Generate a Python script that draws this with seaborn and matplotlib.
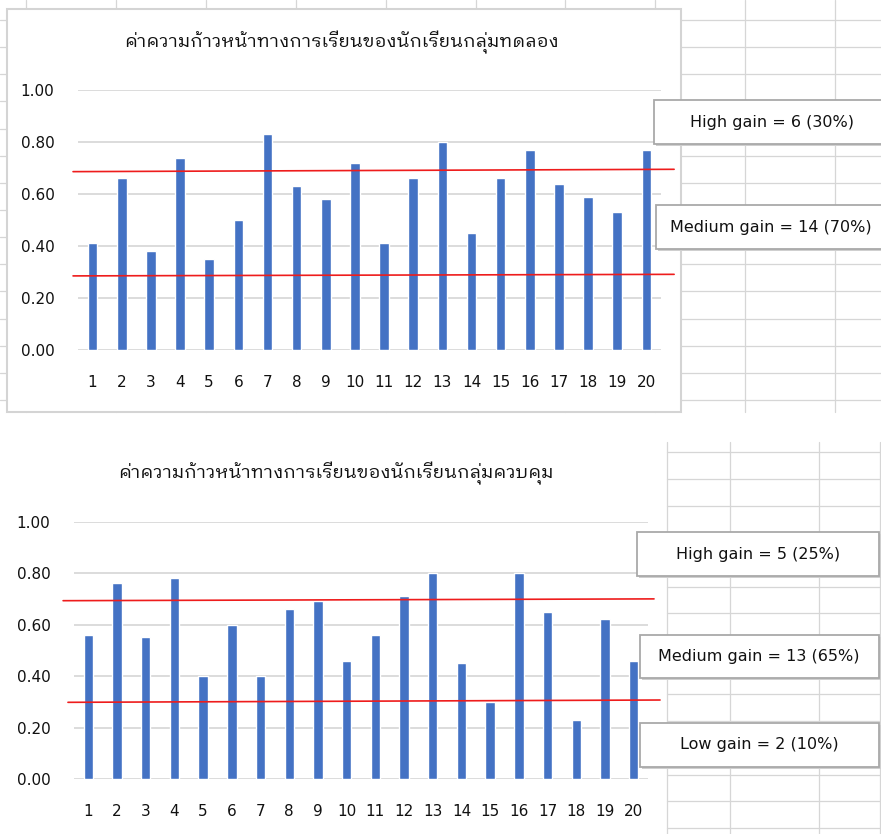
import numpy as np
import pandas as pd
import matplotlib
matplotlib.use("Agg")
import matplotlib.pyplot as plt
from matplotlib.patches import Rectangle
from matplotlib.ticker import FormatStrFormatter
import seaborn as sns

# ---- data -------------------------------------------------------------
students = [str(i) for i in range(1, 21)]
exp_gain = [0.41, 0.66, 0.38, 0.74, 0.35, 0.50, 0.83, 0.63, 0.58, 0.72,
            0.41, 0.66, 0.80, 0.45, 0.66, 0.77, 0.64, 0.59, 0.53, 0.77]
ctl_gain = [0.56, 0.76, 0.55, 0.78, 0.40, 0.60, 0.40, 0.66, 0.69, 0.46,
            0.56, 0.71, 0.80, 0.45, 0.30, 0.80, 0.65, 0.23, 0.62, 0.46]

# hand-drawn cut-off lines (value at left end, value at right end)
exp_cut_high = [0.686, 0.695]
exp_cut_low = [0.285, 0.291]
ctl_cut_high = [0.693, 0.700]
ctl_cut_low = [0.298, 0.307]

exp_title = "ค่าความก้าวหน้าทางการเรียนของนักเรียนกลุ่มทดลอง"
ctl_title = "ค่าความก้าวหน้าทางการเรียนของนักเรียนกลุ่มควบคุม"
exp_labels = ["High gain = 6 (30%)", "Medium gain = 14 (70%)"]
ctl_labels = ["High gain = 5 (25%)", "Medium gain = 13 (65%)", "Low gain = 2 (10%)"]
y_ticks = [0.0, 0.2, 0.4, 0.6, 0.8, 1.0]

# ---- styling ----------------------------------------------------------
sns.set_style("white")
plt.rcParams["font.family"] = ["DejaVu Sans"]
THAI = ["IBM Plex Sans Thai Looped", "DejaVu Sans"]
BAR = "#4472C4"
RED = "#ee1c1c"
GRID = "#d9d9d9"
CELL = "#d6d6d6"
INK = "#111111"

W, H = 881, 834
fig = plt.figure(figsize=(W / 100, H / 100), dpi=100)


def rect_px(l, t, r, b):
    return [l / W, 1 - b / H, (r - l) / W, (b - t) / H]


# ---- worksheet background --------------------------------------------
bg = fig.add_axes([0, 0, 1, 1], zorder=0)
bg.set_xlim(0, W)
bg.set_ylim(H, 0)
bg.axis("off")

for k in range(10):
    x = 26 + 89.9 * k
    bg.plot([x, x], [0, 412], color=CELL, lw=0.9)
for k in range(15):
    y = 20 + 27.14 * k
    bg.plot([0, W], [y, y], color=CELL, lw=0.9)
bg.add_patch(Rectangle((7, 9), 674, 403, facecolor="white",
                       edgecolor="#d4d4d4", lw=1.5, zorder=3))

for x in [667, 730, 819, 880]:
    bg.plot([x, x], [442, H], color=CELL, lw=0.9)
for k in range(15):
    y = 452.3 + 26.85 * k
    bg.plot([667, W], [y, y], color=CELL, lw=0.9)


# ---- charts -----------------------------------------------------------
def gain_chart(pos, values, title, title_xy, cut_high, cut_low,
               hi_span, lo_span):
    ax = fig.add_axes(pos, zorder=2)
    ax.set_facecolor("none")
    df = pd.DataFrame({"student": students, "gain": values})
    sns.barplot(data=df, x="student", y="gain", order=students, color=BAR,
                saturation=1, width=0.33, ax=ax)
    ax.set_xlim(-0.5, len(students) - 0.5)
    ax.set_ylim(0, 1)
    ax.set_yticks(y_ticks)
    ax.yaxis.set_major_formatter(FormatStrFormatter("%.2f"))
    ax.yaxis.grid(True, color=GRID, lw=1.3)
    ax.set_axisbelow(True)
    for s in ax.spines.values():
        s.set_visible(False)
    ax.tick_params(axis="y", length=0, pad=17, labelsize=11, labelcolor=INK)
    ax.tick_params(axis="x", length=0, pad=18, labelsize=11, labelcolor=INK)
    ax.set_xlabel("")
    ax.set_ylabel("")
    ax.plot(hi_span, cut_high, color=RED, lw=1.2, clip_on=False, zorder=5)
    ax.plot(lo_span, cut_low, color=RED, lw=1.2, clip_on=False, zorder=5)
    fig.text(title_xy[0] / W, 1 - title_xy[1] / H, title, family=THAI,
             fontsize=13.3, color=INK, ha="center", va="center")
    return ax


gain_chart(rect_px(78, 90, 661, 350), exp_gain, exp_title, (342, 42),
           exp_cut_high, exp_cut_low, [-0.67, 19.95], [-0.67, 19.95])
gain_chart(rect_px(74, 521.7, 648, 779), ctl_gain, ctl_title, (336, 473),
           ctl_cut_high, ctl_cut_low, [-0.88, 19.71], [-0.71, 19.92])

# ---- count boxes ------------------------------------------------------
ov = fig.add_axes([0, 0, 1, 1], zorder=4)
ov.set_xlim(0, W)
ov.set_ylim(H, 0)
ov.axis("off")
ov.patch.set_alpha(0)


def count_box(l, t, r, b, text, cx):
    ov.add_patch(Rectangle((l + 1.5, t + 1.5), r - l, b - t,
                           facecolor="#cfcfcf", edgecolor="none"))
    ov.add_patch(Rectangle((l, t), r - l, b - t, facecolor="white",
                           edgecolor="#a9a9a9", lw=1.3))
    ov.text(cx, (t + b) / 2, text, ha="center", va="center",
            fontsize=11.5, color=INK)


count_box(654, 100, 895, 144, exp_labels[0], 772)
count_box(656, 205, 895, 249, exp_labels[1], 771)
count_box(637, 532, 879, 576, ctl_labels[0], 758)
count_box(640, 635, 879, 678, ctl_labels[1], 759)
count_box(640, 723, 879, 767, ctl_labels[2], 759)

fig.savefig("out.png", dpi=100)
